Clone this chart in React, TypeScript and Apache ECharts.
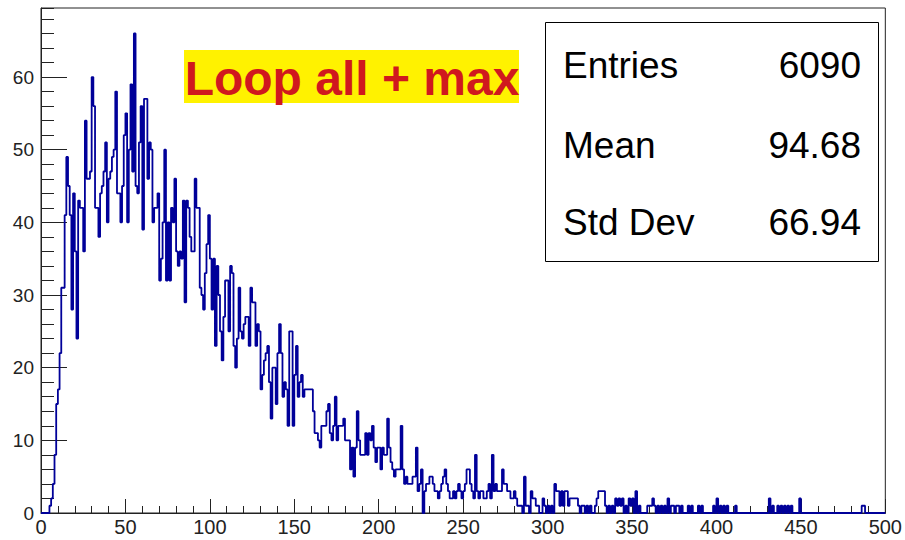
import React, { useEffect, useRef } from "react";
import * as echarts from "echarts";

// Histogram: 500 bins of width 1 from 0 to 500
const xMin = 0;
const xMax = 500;
const yMax = 69.5;
const binValues: number[] = [
  0, 0, 0, 0, 0, 1, 2, 4, 8, 15,
  17, 22, 31, 31, 41, 49, 45, 41, 28, 44,
  36, 24, 43, 42, 42, 36, 54, 46, 46, 47,
  60, 56, 42, 42, 38, 44, 45, 47, 51, 40,
  46, 47, 49, 50, 58, 44, 44, 40, 45, 52,
  55, 40, 50, 59, 47, 66, 45, 44, 51, 56,
  39, 57, 57, 46, 51, 50, 40, 42, 42, 44,
  32, 35, 40, 50, 32, 40, 32, 42, 40, 46,
  36, 34, 36, 35, 43, 29, 43, 42, 38, 36,
  36, 46, 42, 42, 31, 30, 28, 33, 37, 41,
  35, 28, 35, 23, 34, 30, 25, 21, 27, 32,
  32, 25, 34, 33, 23, 20, 24, 31, 25, 24,
  26, 27, 27, 23, 31, 29, 29, 23, 26, 25,
  17, 19, 21, 22, 23, 18, 13, 20, 20, 15,
  22, 26, 22, 16, 18, 17, 12, 25, 25, 12,
  19, 23, 16, 18, 19, 16, 17, 17, 17, 17,
  17, 14, 11, 11, 10, 9, 12, 12, 12, 14,
  15, 11, 10, 12, 16, 10, 12, 12, 12, 13,
  10, 10, 10, 6, 9, 5, 9, 14, 10, 8,
  8, 8, 11, 8, 11, 10, 12, 9, 7, 9,
  9, 6, 9, 8, 8, 13, 9, 7, 6, 5,
  6, 6, 6, 12, 6, 4, 5, 4, 4, 4,
  5, 5, 9, 3, 4, 6, 0, 3, 4, 4,
  5, 5, 4, 3, 3, 2, 3, 4, 5, 6,
  4, 3, 2, 2, 3, 2, 3, 4, 3, 2,
  3, 4, 6, 6, 4, 3, 2, 8, 3, 2,
  3, 3, 2, 2, 3, 4, 2, 8, 3, 4,
  3, 3, 3, 6, 4, 4, 3, 3, 2, 2,
  3, 2, 1, 1, 1, 0, 5, 1, 1, 0,
  3, 2, 2, 1, 1, 0, 0, 2, 1, 0,
  1, 0, 1, 0, 4, 3, 3, 1, 3, 1,
  3, 3, 1, 2, 2, 2, 2, 2, 1, 0,
  1, 1, 0, 1, 0, 1, 0, 0, 1, 2,
  3, 3, 3, 3, 1, 0, 1, 0, 1, 0,
  2, 1, 2, 1, 2, 0, 1, 0, 2, 1,
  2, 0, 3, 0, 1, 0, 0, 0, 0, 1,
  1, 1, 2, 1, 0, 1, 0, 1, 0, 1,
  0, 2, 0, 1, 1, 0, 1, 1, 0, 1,
  0, 0, 0, 1, 0, 1, 0, 0, 0, 1,
  0, 1, 0, 0, 0, 0, 0, 0, 1, 0,
  2, 0, 1, 0, 1, 0, 1, 0, 0, 0,
  0, 1, 0, 0, 0, 0, 0, 0, 0, 0,
  0, 0, 0, 0, 0, 0, 0, 0, 0, 0,
  0, 2, 0, 1, 0, 0, 1, 0, 1, 0,
  1, 0, 1, 0, 1, 0, 0, 0, 0, 2,
  0, 0, 0, 0, 0, 0, 0, 0, 0, 0,
  0, 0, 0, 0, 0, 0, 0, 0, 0, 0,
  0, 0, 0, 0, 0, 0, 0, 0, 0, 0,
  0, 0, 0, 0, 0, 0, 1, 1, 0, 0,
  0, 0, 0, 0, 0, 0, 0, 0, 0, 0,
];

const titleText = "Loop all + max";
const statLabels = ["Entries", "Mean", "Std Dev"];
const statValues = ["6090", "94.68", "66.94"];

const FONT = "'Liberation Sans', Arial, Helvetica, sans-serif";

export default function App() {
  const ref = useRef<HTMLDivElement>(null);
  useEffect(() => {
    if (!ref.current) return;
    const chart = echarts.init(ref.current, null, { renderer: "svg" });
    const data: number[][] = binValues.map((v, i) => [xMin + i, v]);
    data.push([xMax, binValues[binValues.length - 1]]);

    const rowY = [65, 145, 222];
    const graphics: any[] = [
      {
        type: "rect",
        shape: { x: 184, y: 50, width: 335, height: 53 },
        style: { fill: "#fff200" },
        z: 10,
      },
      {
        type: "text",
        x: 352,
        y: 78,
        style: {
          text: titleText,
          fill: "#d0181e",
          font: `bold 48px ${FONT}`,
          textAlign: "center",
          textVerticalAlign: "middle",
        },
        z: 11,
      },
      {
        type: "rect",
        shape: { x: 545.5, y: 22.5, width: 333, height: 239 },
        style: { fill: "#ffffff", stroke: "#000000", lineWidth: 1 },
        z: 10,
      },
    ];
    statLabels.forEach((lab, i) => {
      graphics.push({
        type: "text",
        x: 563,
        y: rowY[i],
        style: {
          text: lab,
          fill: "#000",
          font: `37px ${FONT}`,
          textAlign: "left",
          textVerticalAlign: "middle",
        },
        z: 11,
      });
      graphics.push({
        type: "text",
        x: 861,
        y: rowY[i],
        style: {
          text: statValues[i],
          fill: "#000",
          font: `37px ${FONT}`,
          textAlign: "right",
          textVerticalAlign: "middle",
        },
        z: 11,
      });
    });

    chart.setOption({
      animation: false,
      backgroundColor: "#ffffff",
      grid: {
        left: 41,
        top: 8,
        right: 18,
        bottom: 27,
        show: true,
        borderColor: "#222",
        borderWidth: 1,
        backgroundColor: "transparent",
      },
      xAxis: {
        type: "value",
        min: xMin,
        max: xMax,
        interval: 50,
        axisLine: { show: true, onZero: false, lineStyle: { color: "#222", width: 1 } },
        axisTick: { show: true, inside: true, length: 14, lineStyle: { color: "#222", width: 1 } },
        minorTick: { show: true, splitNumber: 5, length: 7, lineStyle: { color: "#222", width: 1 } },
        axisLabel: { fontFamily: FONT, fontSize: 20, color: "#222", margin: 4 },
        splitLine: { show: false },
      },
      yAxis: [
        {
          type: "value",
          min: 0,
          max: yMax,
          interval: 10,
          axisLine: { show: true, onZero: false, lineStyle: { color: "#222", width: 1 } },
          axisTick: { show: true, inside: true, length: 26, lineStyle: { color: "#222", width: 1 } },
          axisLabel: { fontFamily: FONT, fontSize: 19, color: "#222", margin: 7, showMaxLabel: false },
          splitLine: { show: false },
        },
        {
          type: "value",
          min: 0,
          max: yMax,
          interval: 2,
          position: "left",
          axisLine: { show: false },
          axisTick: { show: true, inside: true, length: 13, lineStyle: { color: "#222", width: 1 } },
          axisLabel: { show: false },
          splitLine: { show: false },
        },
      ],
      graphic: graphics,
      series: [
        {
          type: "line",
          step: "end",
          data,
          yAxisIndex: 0,
          showSymbol: false,
          symbol: "none",
          lineStyle: { color: "#000099", width: 1.8 },
          z: 3,
        },
      ],
    });
    return () => chart.dispose();
  }, []);
  return <div ref={ref} style={{ width: 905, height: 540, position: "absolute", left: 0, top: 0 }} />;
}
